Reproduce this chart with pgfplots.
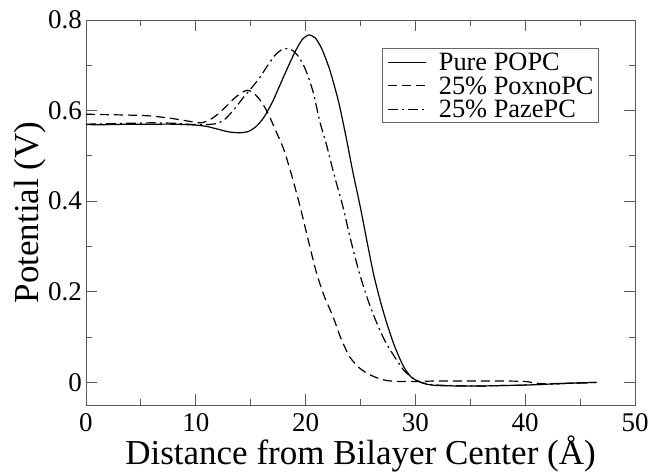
\documentclass[border=0pt]{standalone}
\usepackage{pgfplots}
\pgfplotsset{compat=1.18}
\usepackage{fontspec}
\setmainfont{Liberation Serif}

% Electrostatic potential profiles across the bilayer
\pgfplotstableread{
x y
0 0.569
2 0.569
4 0.570
6 0.570
8 0.570
10 0.568
11 0.565
12 0.559
13 0.553
14 0.551
14.8 0.554
15.5 0.565
16.2 0.585
17 0.620
18 0.675
19 0.728
19.7 0.757
20.3 0.767
20.9 0.760
21.5 0.735
22.2 0.690
23 0.620
23.7 0.540
24.3 0.465
25 0.385
25.6 0.310
26.2 0.238
26.8 0.180
27.4 0.130
28.1 0.080
28.9 0.036
29.6 0.012
30.3 0.002
31 -0.004
32 -0.007
34 -0.008
36 -0.008
38 -0.007
40 -0.006
42 -0.004
44 -0.002
46.5 0.000
}\popc

\pgfplotstableread{
x y
0 0.592
2 0.591
4 0.590
6 0.588
8 0.582
9.5 0.576
10.5 0.573
11.3 0.580
12 0.592
12.8 0.610
13.5 0.627
14.2 0.640
14.7 0.645
15.2 0.640
15.8 0.625
16.5 0.598
17.2 0.560
18 0.515
18.7 0.460
19.5 0.388
20.2 0.318
21 0.241
21.7 0.190
22.5 0.145
23.2 0.098
24 0.057
24.8 0.034
25.6 0.020
26.5 0.010
27.4 0.004
28.5 0.002
30 0.002
32 0.003
35 0.003
38 0.003
40 0.002
41 -0.002
42 -0.003
44 -0.002
46.5 0.000
}\poxno

\pgfplotstableread{
x y
0 0.570
2 0.571
4 0.572
6 0.573
8 0.572
10 0.569
11 0.569
12 0.572
12.7 0.582
13.5 0.603
14.3 0.628
15 0.648
15.8 0.672
16.5 0.698
17.2 0.722
17.8 0.734
18.3 0.737
18.8 0.733
19.4 0.718
20 0.690
20.7 0.640
21.3 0.575
21.9 0.525
22.6 0.458
23.4 0.388
24.1 0.315
24.9 0.241
25.7 0.180
26.5 0.130
27.3 0.088
28.3 0.049
29 0.025
29.8 0.009
30.5 0.000
31.5 -0.005
33 -0.007
36 -0.008
38 -0.007
40 -0.006
42 -0.004
44 -0.002
46.5 0.000
}\paze

\begin{document}
\begin{tikzpicture}
\useasboundingbox (-86pt,-67pt) rectangle (564pt,405pt);
\begin{axis}[
  at={(0,0)}, anchor=south west,
  scale only axis, width=549pt, height=385pt,
  xmin=0, xmax=50, ymin=-0.05, ymax=0.8,
  xtick={0,10,20,30,40,50},
  ytick={0,0.2,0.4,0.6,0.8},
  minor x tick num=1, minor y tick num=1,
  tick align=inside,
  major tick length=11pt, minor tick length=6pt,
  axis line style={black!65, line width=0.8pt},
  every tick/.style={black!65, line width=0.8pt},
  /pgf/number format/assume math mode=true,
  ticklabel style={font=\fontsize{27}{27}\selectfont},
  yticklabel style={/pgf/number format/fixed, /pgf/number format/precision=1,
    inner xsep=4pt, inner ysep=0pt},
  xticklabel style={inner xsep=0pt, inner ysep=8pt},
  xlabel={Distance from Bilayer Center (Å)},
  ylabel={Potential (V)},
  every axis x label/.style={at={(axis description cs:0.5,0)}, anchor=base,
    yshift=-59pt, font=\fontsize{35}{35}\selectfont},
  every axis y label/.style={at={(axis description cs:-0.0874,0.5)}, rotate=90,
    anchor=base, font=\fontsize{35}{35}\selectfont},
  legend style={
    at={(axis description cs:0.9344,0.9273)}, anchor=north east,
    draw=black!60, line width=0.8pt,
    font=\fontsize{26.4}{26.4}\selectfont,
    inner xsep=5pt, inner ysep=2pt,
    nodes={text height=17.5pt, text depth=0pt, inner ysep=3pt, inner xsep=0pt},
    column sep=12pt,
  },
  legend cell align=left,
  legend image code/.code={\draw[#1, line width=1.2pt] (0pt,0pt) -- (38pt,0pt);},
  every axis plot/.append style={line width=1.2pt, black, smooth, tension=0.4},
]
\addplot[solid] table[x=x, y=y] {\popc};
\addlegendentry{Pure POPC}
\addplot[dash pattern=on 9pt off 5pt] table[x=x, y=y] {\poxno};
\addlegendentry{25\% PoxnoPC}
\addplot[dash pattern=on 10pt off 4pt on 2pt off 4pt] table[x=x, y=y] {\paze};
\addlegendentry{25\% PazePC}
\end{axis}
\end{tikzpicture}
\end{document}
